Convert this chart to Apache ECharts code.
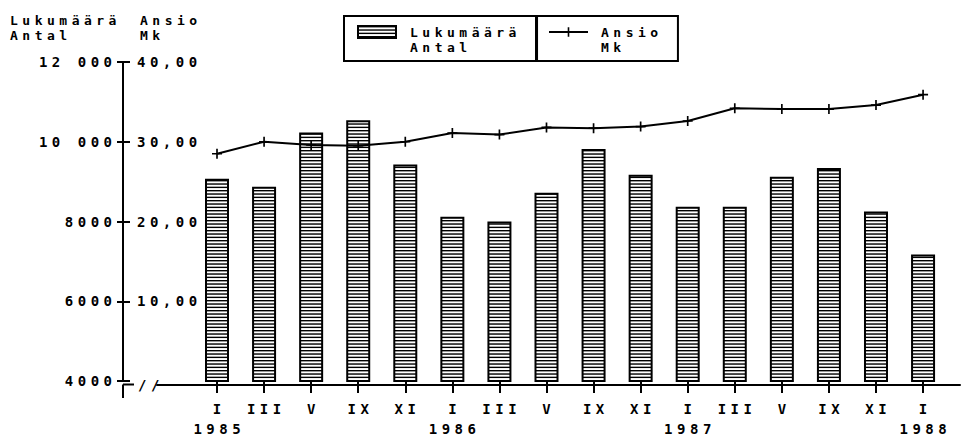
<!DOCTYPE html>
<html><head><meta charset="utf-8">
<script src="https://cdn.jsdelivr.net/npm/echarts@6/dist/echarts.min.js"></script>
<style>
html,body{margin:0;padding:0;background:#fff;}
#c{width:965px;height:439px;}
#c text{letter-spacing:4.5px;}
</style></head><body><div id="c"></div>
<script>
// ---- data ----
const months = ['I','III','V','IX','XI','I','III','V','IX','XI','I','III','V','IX','XI','I'];
const years  = ['1985','','','','','1986','','','','','1987','','','','','1988'];
const counts   = [9070, 8870, 10230, 10540, 9430, 8120, 8000, 8720, 9820, 9170, 8370, 8370, 9120, 9340, 8250, 7170];
const earnings = [28.5, 30.0, 29.6, 29.5, 30.0, 31.1, 30.9, 31.8, 31.7, 31.9, 32.6, 34.2, 34.1, 34.1, 34.6, 35.9];
const countTicks = [4000, 6000, 8000, 10000, 12000];
const countTickLabels = ['4000', '6000', '8000', '10 000', '12 000'];
const earnTicks = [0, 10, 20, 30, 40];
const earnTickLabels = ['', '10,00', '20,00', '30,00', '40,00'];
const countName = 'Lukumäärä\nAntal';
const earnName = 'Ansio\nMk';

const categories = months.map((m, i) => m + '\n' + years[i]);

// hatch pattern
const pat = document.createElement('canvas');
pat.width = 4; pat.height = 10;
const g = pat.getContext('2d');
g.fillStyle = '#fff'; g.fillRect(0, 0, 4, 10);
g.fillStyle = '#000';
for (let i = 0; i < 3; i++) g.fillRect(0, i * 10 / 3, 4, 1.4);

const FONT = "'DejaVu Sans Mono', monospace";
const FS = 14;
const chart = echarts.init(document.getElementById('c'), null, {renderer: 'svg'});
const axisLeft = 123, gridLeft = 193.47, gridRight = 18.4, gridTop = 62, gridBottom = 54.5;
const txt = {fontFamily: FONT, fontSize: FS, fontWeight: 'bold', color: '#000'};
const txtSmall = {fontFamily: FONT, fontSize: 13, fontWeight: 'bold', color: '#000', lineHeight: 15};

chart.setOption({
  animation: false,
  backgroundColor: '#fff',
  textStyle: txt,
  legend: [
    {data: [countName], left: 344, top: 16, icon: 'rect', itemWidth: 38, itemHeight: 12,
     padding: [-6.5, 56.6, 6.5, 13], borderColor: '#000', borderWidth: 2, borderRadius: 0,
     selectedMode: false, formatter: n => ' \n' + n,
     textStyle: Object.assign({}, txtSmall, {padding: [0, 0, 0, 9]})},
    {data: [earnName], left: 536, top: 16, itemWidth: 39, itemHeight: 12,
     padding: [-6.5, 37.8, 6.5, 12], borderColor: '#000', borderWidth: 2, borderRadius: 0,
     selectedMode: false, formatter: n => ' \n' + n,
     textStyle: Object.assign({}, txtSmall, {padding: [0, 0, 0, 8]})}
  ],
  grid: [
    {left: gridLeft, right: gridRight, top: gridTop, bottom: gridBottom},
    {left: 157, right: 5, top: gridTop, bottom: gridBottom}
  ],
  xAxis: [
    {type: 'category', gridIndex: 0, data: categories, boundaryGap: true,
     axisLine: {show: false},
     axisTick: {show: true, alignWithLabel: true, length: 12, lineStyle: {color: '#000', width: 2}},
     axisLabel: Object.assign({}, txt, {interval: 0, margin: 18, lineHeight: 20, padding: [0, 0, 0, 4.5]}),
     splitLine: {show: false}},
    {type: 'value', gridIndex: 1, min: 0, max: 1,
     axisLine: {show: true, lineStyle: {color: '#000', width: 2}},
     axisTick: {show: false}, axisLabel: {show: false}, splitLine: {show: false}}
  ],
  yAxis: [
    {type: 'value', gridIndex: 0, position: 'left', offset: gridLeft - axisLeft,
     min: 4000, max: 12000, interval: 2000,
     axisLine: {show: true, lineStyle: {color: '#000', width: 2}},
     axisTick: {show: true, length: 6, lineStyle: {color: '#000', width: 2}},
     axisLabel: Object.assign({}, txt, {margin: 6.5,
       formatter: v => { const k = countTicks.indexOf(v); return k >= 0 ? countTickLabels[k] : ''; }}),
     splitLine: {show: false}},
    {type: 'value', gridIndex: 0, position: 'left', offset: gridLeft - axisLeft,
     min: 0, max: 40, interval: 10,
     axisLine: {show: true, lineStyle: {color: '#000', width: 2}},
     axisTick: {show: true, inside: true, length: 7, lineStyle: {color: '#000', width: 2}},
     axisLabel: Object.assign({}, txt, {inside: true, margin: 14,
       formatter: v => { const k = earnTicks.indexOf(v); return k >= 0 ? earnTickLabels[k] : ''; }}),
     splitLine: {show: false}},
    {type: 'value', gridIndex: 1, show: false, min: 0, max: 1}
  ],
  series: [
    {name: countName, type: 'bar', xAxisIndex: 0, yAxisIndex: 0, data: counts, barWidth: 24,
     itemStyle: {color: {image: pat, repeat: 'repeat'}, borderColor: '#000', borderWidth: 2}},
    {name: earnName, type: 'line', xAxisIndex: 0, yAxisIndex: 1, data: earnings,
     symbol: 'path://M5,0H7V5H12V7H7V12H5V7H0V5H5Z', symbolSize: 10,
     lineStyle: {color: '#000', width: 2}, itemStyle: {color: '#000', borderWidth: 0}, z: 5}
  ],
  graphic: [
    {type: 'text', x: 10, y: 12.5, style: {text: 'Lukumäärä\nAntal', fontFamily: FONT, fontSize: 13, fontWeight: 'bold', lineHeight: 15, fill: '#000'}},
    {type: 'text', x: 140, y: 12.5, style: {text: 'Ansio\nMk', fontFamily: FONT, fontSize: 13, fontWeight: 'bold', lineHeight: 15, fill: '#000'}},
    {type: 'line', shape: {x1: axisLeft, y1: 384.5, x2: 134, y2: 384.5}, style: {stroke: '#000', lineWidth: 2}},
    {type: 'line', shape: {x1: axisLeft, y1: 384.5, x2: axisLeft, y2: 398}, style: {stroke: '#000', lineWidth: 2}},
    {type: 'text', x: 138, y: 385, style: {text: '//', fontFamily: FONT, fontSize: 14, fontWeight: 'bold', verticalAlign: 'middle', fill: '#000'}}
  ]
});
</script></body></html>
